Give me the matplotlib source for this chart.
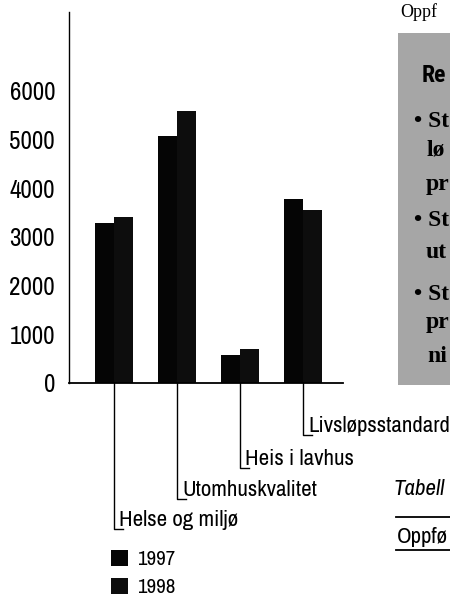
import matplotlib.pyplot as plt
import matplotlib.transforms as mtransforms
from matplotlib.patches import Rectangle
import numpy as np

plt.rcParams['font.family'] = ['Archivo Narrow', 'Roboto Condensed', 'DejaVu Sans']

categories = ['Helse og miljø', 'Utomhuskvalitet', 'Heis i lavhus', 'Livsløpsstandard']
years = ['1997', '1998']
v1997 = [3280, 5070, 580, 3770]
v1998 = [3415, 5590, 690, 3550]
yticks = [0, 1000, 2000, 3000, 4000, 5000, 6000]

W, H = 450, 600
fy = lambda py: 1 - py / H
fx = lambda px: px / W

fig = plt.figure(figsize=(4.5, 6), dpi=100)
ax = fig.add_axes([fx(69), fy(383), fx(343 - 69), (383 - 12) / H])

x = np.arange(len(categories))
bw = 0.30
b1 = ax.bar(x - bw / 2, v1997, bw, color='#050505', label=years[0])
b2 = ax.bar(x + bw / 2, v1998, bw, color='#0d0d0d', label=years[1])

ax.set_xlim(-0.714, 3.635)
ax.set_ylim(0, 7620)
ax.set_yticks(yticks)
ax.set_xticks([])
ax.tick_params(axis='y', length=0, pad=10, labelsize=18)
for s in ['top', 'right']:
    ax.spines[s].set_visible(False)
ax.spines['left'].set_linewidth(1.0)
ax.spines['bottom'].set_linewidth(1.3)

# staggered category labels hanging from the axis
blend = mtransforms.blended_transform_factory(ax.transData, fig.transFigure)
foot_px = [529, 499, 468, 435]
step = 1 / 63  # data units per pixel along x
for xi, lab, fp in zip(x, categories, foot_px):
    ax.plot([xi, xi, xi + 9 * step], [fy(383), fy(fp), fy(fp)], color='black',
            lw=1.0, transform=blend, clip_on=False)
    ax.text(xi + 5 * step, fy(fp - 3), lab, transform=blend, fontsize=16.5,
            ha='left', va='baseline')

leg = fig.legend(handles=[b1, b2], loc='upper left', bbox_to_anchor=(fx(111), fy(550)),
                 frameon=False, fontsize=15, handlelength=0.8, handleheight=0.8,
                 handletextpad=0.45, labelspacing=0.42, borderpad=0, borderaxespad=0)

# side panel
fig.add_artist(Rectangle((fx(398), fy(385)), fx(60), (385 - 33) / H,
                         transform=fig.transFigure, color='#a6a6a6', lw=0))
fig.text(fx(422), fy(82), 'Re', fontsize=17, fontweight='bold', va='baseline',
         family=['Roboto Condensed', 'DejaVu Sans'])
side = [('• St', 414, 127), ('lø', 427, 155), ('pr', 426, 190), ('• St', 414, 226),
        ('ut', 426, 258), ('• St', 414, 300), ('pr', 426, 328), ('ni', 427, 362)]
for t, px, py in side:
    fig.text(fx(px), fy(py), t, fontsize=17, fontweight='bold', va='baseline',
             family='Liberation Serif')

fig.text(fx(400), fy(17), 'Oppf', fontsize=13, va='baseline', family='Liberation Serif')
fig.text(fx(394), fy(495), 'Tabell', fontsize=16.5, style='italic', va='baseline')
fig.add_artist(plt.Line2D([fx(396), 1], [fy(517), fy(517)], color='black', lw=1.3))
fig.text(fx(397), fy(543), 'Oppfø', fontsize=16.5, va='baseline')
fig.add_artist(plt.Line2D([fx(396), 1], [fy(550), fy(550)], color='black', lw=1.3))

fig.savefig('out.png', dpi=100)
